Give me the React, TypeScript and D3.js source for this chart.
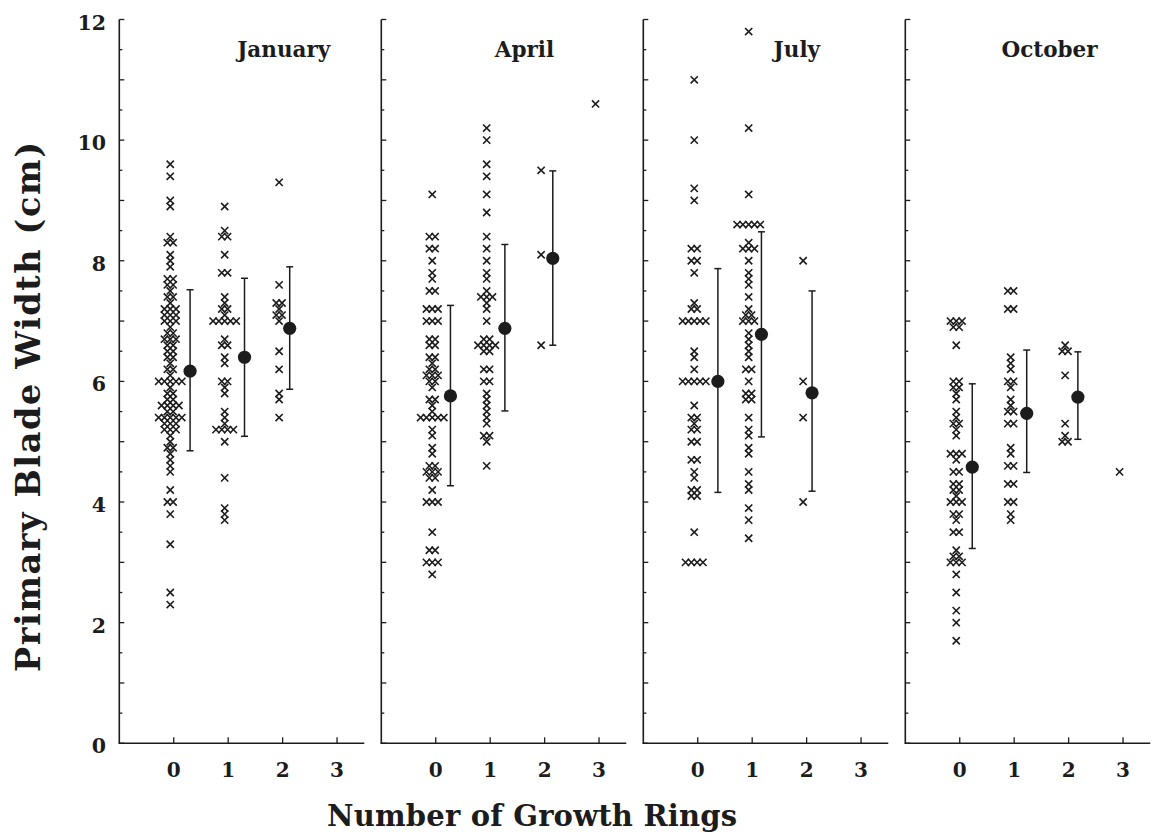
import React from "react";
import * as d3 from "d3";

// Primary blade width (cm) by number of growth rings, one panel per sampling month.
const months = ["January", "April", "July", "October"];
const rings = [0, 1, 2, 3];
const yTicks = [0, 2, 4, 6, 8, 10, 12];

const janRing0 = [9.6, 9.4, 9.0, 8.9, 8.4, 8.3, 8.3, 8.1, 8.0, 7.9, 7.7, 7.7, 7.6, 7.6, 7.5, 7.4, 7.4, 7.3, 7.2, 7.2, 7.2, 7.1, 7.1, 7.1, 7.0, 7.0, 7.0, 6.9, 6.8, 6.8, 6.7, 6.7, 6.7, 6.6, 6.6, 6.5, 6.5, 6.4, 6.4, 6.3, 6.2, 6.2, 6.1, 6.0, 6.0, 6.0, 6.0, 6.0, 5.9, 5.8, 5.8, 5.7, 5.7, 5.6, 5.6, 5.6, 5.6, 5.5, 5.5, 5.4, 5.4, 5.4, 5.4, 5.4, 5.3, 5.3, 5.3, 5.2, 5.2, 5.2, 5.1, 5.0, 4.9, 4.9, 4.8, 4.7, 4.6, 4.5, 4.2, 4.0, 4.0, 3.8, 3.3, 2.5, 2.3];
const janRing1 = [8.9, 8.5, 8.4, 8.4, 8.1, 7.8, 7.8, 7.4, 7.3, 7.2, 7.2, 7.1, 7.0, 7.0, 7.0, 7.0, 7.0, 6.7, 6.6, 6.6, 6.4, 6.3, 6.0, 6.0, 5.9, 5.8, 5.5, 5.4, 5.3, 5.2, 5.2, 5.2, 5.2, 5.0, 4.4, 3.9, 3.8, 3.7];
const janRing2 = [9.3, 7.6, 7.3, 7.3, 7.2, 7.1, 7.1, 7.0, 6.5, 6.2, 5.8, 5.7, 5.4];
const janRing3: number[] = [];

const aprRing0 = [9.1, 8.4, 8.4, 8.2, 8.2, 8.0, 7.8, 7.7, 7.5, 7.5, 7.2, 7.2, 7.2, 7.0, 7.0, 7.0, 6.7, 6.7, 6.6, 6.6, 6.4, 6.4, 6.3, 6.2, 6.2, 6.1, 6.1, 6.1, 6.0, 6.0, 5.9, 5.7, 5.7, 5.6, 5.5, 5.4, 5.4, 5.4, 5.4, 5.4, 5.2, 5.1, 4.9, 4.8, 4.6, 4.6, 4.5, 4.5, 4.5, 4.4, 4.4, 4.2, 4.0, 4.0, 4.0, 3.5, 3.2, 3.2, 3.0, 3.0, 3.0, 2.8];
const aprRing1 = [10.2, 10.0, 9.6, 9.4, 9.1, 8.8, 8.4, 8.2, 8.0, 7.8, 7.7, 7.5, 7.4, 7.4, 7.4, 7.3, 7.2, 7.0, 6.7, 6.7, 6.6, 6.6, 6.6, 6.6, 6.5, 6.5, 6.2, 6.2, 6.0, 6.0, 5.8, 5.7, 5.6, 5.5, 5.4, 5.3, 5.1, 5.1, 5.0, 4.6];
const aprRing2 = [9.5, 8.1, 6.6];
const aprRing3 = [10.6];

const julRing0 = [11.0, 10.0, 9.2, 9.0, 8.2, 8.2, 8.0, 8.0, 7.8, 7.3, 7.2, 7.2, 7.0, 7.0, 7.0, 7.0, 7.0, 6.5, 6.4, 6.2, 6.0, 6.0, 6.0, 6.0, 6.0, 5.6, 5.4, 5.4, 5.3, 5.2, 5.2, 5.0, 5.0, 4.7, 4.7, 4.5, 4.4, 4.2, 4.2, 4.1, 4.1, 3.5, 3.0, 3.0, 3.0, 3.0];
const julRing1 = [11.8, 10.2, 9.1, 8.6, 8.6, 8.6, 8.6, 8.6, 8.3, 8.2, 8.2, 8.2, 8.0, 7.8, 7.7, 7.6, 7.4, 7.2, 7.1, 7.1, 7.0, 7.0, 7.0, 6.8, 6.7, 6.6, 6.5, 6.4, 6.2, 6.2, 6.0, 5.8, 5.8, 5.7, 5.7, 5.4, 5.2, 5.1, 4.9, 4.8, 4.5, 4.3, 4.2, 3.9, 3.7, 3.4];
const julRing2 = [8.0, 6.0, 5.4, 4.0];
const julRing3: number[] = [];

const octRing0 = [7.0, 7.0, 7.0, 6.9, 6.9, 6.6, 6.0, 6.0, 5.9, 5.9, 5.8, 5.7, 5.5, 5.4, 5.3, 5.3, 5.2, 5.1, 4.8, 4.8, 4.8, 4.7, 4.5, 4.5, 4.3, 4.3, 4.2, 4.2, 4.1, 4.0, 4.0, 4.0, 3.8, 3.8, 3.7, 3.5, 3.5, 3.2, 3.1, 3.1, 3.0, 3.0, 3.0, 2.8, 2.5, 2.2, 2.0, 1.7];
const octRing1 = [7.5, 7.5, 7.2, 7.2, 6.4, 6.3, 6.2, 6.0, 6.0, 5.9, 5.7, 5.6, 5.5, 5.5, 5.3, 5.3, 4.9, 4.8, 4.6, 4.6, 4.3, 4.3, 4.0, 4.0, 3.8, 3.7];
const octRing2 = [6.6, 6.5, 6.5, 6.1, 5.3, 5.1, 5.0, 5.0];
const octRing3 = [4.5];

const observations = [
  [janRing0, janRing1, janRing2, janRing3],
  [aprRing0, aprRing1, aprRing2, aprRing3],
  [julRing0, julRing1, julRing2, julRing3],
  [octRing0, octRing1, octRing2, octRing3],
];

// Group means with the lower and upper ends of their bars; the mean is plotted beside its ring class.
const meanRing = [
  [0.3, 1.3, 2.13],
  [0.27, 1.27, 2.15],
  [0.37, 1.17, 2.1],
  [0.23, 1.23, 2.17],
];
const meanValue = [
  [6.17, 6.4, 6.88],
  [5.76, 6.88, 8.04],
  [6.0, 6.78, 5.81],
  [4.58, 5.47, 5.74],
];
const barLow = [
  [4.85, 5.09, 5.87],
  [4.27, 5.51, 6.6],
  [4.16, 5.08, 4.18],
  [3.23, 4.49, 5.04],
];
const barHigh = [
  [7.52, 7.71, 7.9],
  [7.26, 8.27, 9.49],
  [7.87, 8.48, 7.5],
  [5.96, 6.52, 6.49],
];

const W = 1152;
const H = 840;
const firstAxisX = 119.3;
const panelStep = 262;
const unitPx = 54.44;
const titleRing = [2.02, 1.63, 1.82, 1.65];
const FONT = "'DejaVu Serif', serif";
const INK = "#1c1c1c";

const y = d3.scaleLinear().domain([0, 12]).range([743.3, 19.5]);
const halfTicks = d3.range(0, 12.001, 0.5);

const crossPath = "M-3.6,-3.6L3.6,3.6M-3.6,3.6L3.6,-3.6";
const spread = 5.8;
const markShift = -3.5;

function layoutCrosses(values: number[], cx: number) {
  const groups = d3.group(values, (v) => v.toFixed(1));
  const pts: { x: number; y: number }[] = [];
  groups.forEach((vals) => {
    const n = vals.length;
    vals.forEach((v, k) => {
      pts.push({ x: cx + markShift + (k - (n - 1) / 2) * spread, y: y(v) });
    });
  });
  return pts;
}

function Panel({ index }: { index: number }) {
  const left = firstAxisX + index * panelStep;
  const x = d3
    .scaleLinear()
    .domain([-1, 3.5])
    .range([left, left + 4.5 * unitPx]);
  return (
    <g>
      {/* axes */}
      <line x1={left} x2={left} y1={y(12)} y2={y(0)} stroke={INK} strokeWidth={1.6} />
      <line x1={left - 0.8} x2={x(3.5)} y1={y(0)} y2={y(0)} stroke={INK} strokeWidth={1.6} />
      {halfTicks.map((t) => (
        <line
          key={t}
          x1={left}
          x2={left + (Number.isInteger(t) ? 5 : 3)}
          y1={y(t)}
          y2={y(t)}
          stroke={INK}
          strokeWidth={1.3}
        />
      ))}
      {rings.map((r) => (
        <g key={r}>
          <line x1={x(r)} x2={x(r)} y1={y(0)} y2={y(0) - 6} stroke={INK} strokeWidth={1.3} />
          <text
            x={x(r)}
            y={777}
            textAnchor="middle"
            fontFamily={FONT}
            fontWeight="bold"
            fontSize={20}
            fill={INK}
          >
            {r}
          </text>
        </g>
      ))}
      {index === 0 &&
        yTicks.map((t) => (
          <text
            key={t}
            x={106}
            y={y(t) + 10}
            textAnchor="end"
            fontFamily={FONT}
            fontWeight="bold"
            fontSize={20.5}
            fill={INK}
          >
            {t}
          </text>
        ))}
      <text
        x={x(titleRing[index])}
        y={57}
        textAnchor="middle"
        fontFamily={FONT}
        fontWeight="bold"
        fontSize={21.5}
        fill={INK}
      >
        {months[index]}
      </text>
      {/* individual observations */}
      {observations[index].map((vals, r) =>
        layoutCrosses(vals, x(rings[r])).map((p, i) => (
          <path
            key={`${r}-${i}`}
            d={crossPath}
            transform={`translate(${p.x},${p.y})`}
            stroke={INK}
            strokeWidth={1.6}
            fill="none"
          />
        ))
      )}
      {/* means with bars */}
      {meanValue[index].map((m, g) => {
        const cx = x(meanRing[index][g]);
        return (
          <g key={g}>
            <line x1={cx} x2={cx} y1={y(barLow[index][g])} y2={y(barHigh[index][g])} stroke={INK} strokeWidth={1.5} />
            <line x1={cx - 3.5} x2={cx + 3.5} y1={y(barLow[index][g])} y2={y(barLow[index][g])} stroke={INK} strokeWidth={1.5} />
            <line x1={cx - 3.5} x2={cx + 3.5} y1={y(barHigh[index][g])} y2={y(barHigh[index][g])} stroke={INK} strokeWidth={1.5} />
            <circle cx={cx} cy={y(m)} r={6.6} fill={INK} />
          </g>
        );
      })}
    </g>
  );
}

export default function App() {
  return (
    <svg
      width={W}
      height={H}
      viewBox={`0 0 ${W} ${H}`}
      style={{ position: "absolute", left: 0, top: 0, background: "#fff" }}
    >
      <rect width={W} height={H} fill="#fff" />
      {months.map((m, i) => (
        <Panel key={m} index={i} />
      ))}
      <text
        transform={`translate(40,407) rotate(-90)`}
        textAnchor="middle"
        fontFamily={FONT}
        fontWeight="bold"
        fontSize={33.5}
        textLength={530}
        lengthAdjust="spacing"
        fill={INK}
      >
        Primary Blade Width (cm)
      </text>
      <text
        x={532}
        y={826}
        textAnchor="middle"
        fontFamily={FONT}
        fontWeight="bold"
        fontSize={29}
        textLength={410}
        lengthAdjust="spacing"
        fill={INK}
      >
        Number of Growth Rings
      </text>
    </svg>
  );
}
